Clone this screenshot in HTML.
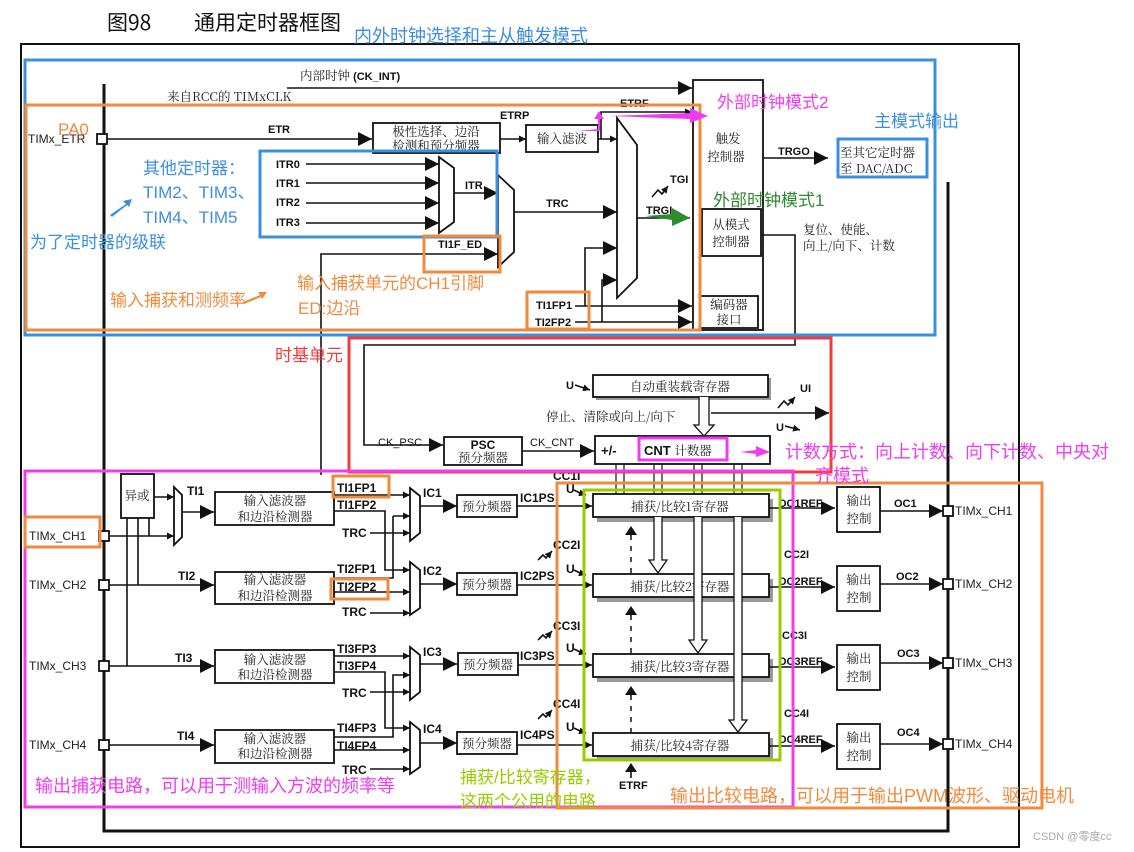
<!DOCTYPE html>
<html><head><meta charset="utf-8"><style>
html,body{margin:0;padding:0;background:#fff;width:1134px;height:852px;overflow:hidden}
svg{display:block}
text{font-family:"Liberation Sans","Noto Sans CJK SC",sans-serif}
.b{font-weight:bold;font-size:11px;fill:#111}
.c{font-size:12.5px;fill:#222;font-family:"Noto Serif CJK SC","Noto Sans CJK SC",serif}
.k{stroke:#111;stroke-width:1.6;fill:none}
.bx{stroke:#111;stroke-width:1.8;fill:#fff}
</style></head><body>
<svg width="1134" height="852" viewBox="0 0 1134 852" xmlns="http://www.w3.org/2000/svg">
<defs>
<marker id="a" viewBox="0 0 10 10" refX="10" refY="5" markerWidth="7" markerHeight="7" orient="auto" markerUnits="userSpaceOnUse"><path d="M0,0L10,5L0,10z" fill="#111"/></marker>
<marker id="A" viewBox="0 0 10 10" refX="10" refY="5" markerWidth="14" markerHeight="14" orient="auto" markerUnits="userSpaceOnUse"><path d="M0,0L10,5L0,10z" fill="#111"/></marker>
</defs>

<!-- title -->
<text x="107" y="30" style="font-family:'Noto Sans CJK SC',sans-serif;font-size:21px" fill="#111">图98</text>
<text x="194" y="30" style="font-family:'Noto Sans CJK SC',sans-serif;font-size:21px" fill="#111">通用定时器框图</text>

<!-- frames -->
<rect x="21" y="44" width="998" height="803" fill="none" stroke="#111" stroke-width="2"/>
<polyline points="104,84 104,831 948,831 948,182" fill="none" stroke="#111" stroke-width="3"/>

<!-- top area lines -->
<text x="300" y="80" class="b" style="font-weight:bold"><tspan class="c" style="font-weight:normal">内部时钟</tspan> (CK_INT)</text>
<line x1="287" y1="88" x2="692" y2="88" class="k" marker-end="url(#A)"/>
<text x="167" y="101" class="c">来自RCC的 TIMxCLK</text>
<text x="28" y="143" style="font-size:12px" fill="#222">TIMx_ETR</text>
<rect x="97" y="134" width="10" height="10" class="bx" stroke-width="1.5"/>
<line x1="107" y1="139" x2="372" y2="139" class="k" marker-end="url(#A)"/>
<text x="268" y="133" class="b">ETR</text>
<rect x="373" y="123" width="127" height="30" class="bx"/>
<text x="436" y="136" class="c" text-anchor="middle">极性选择、边沿</text>
<text x="436" y="150" class="c" text-anchor="middle">检测和预分频器</text>
<text x="500" y="119" class="b">ETRP</text>
<line x1="500" y1="139" x2="526" y2="139" class="k" marker-end="url(#a)"/>
<rect x="526" y="125" width="72" height="27" class="bx"/>
<text x="562" y="143" class="c" text-anchor="middle">输入滤波</text>
<polyline points="598,139 617,139" class="k" marker-end="url(#a)"/>
<polyline points="601,139 601,112 692,112" class="k" marker-end="url(#a)"/>
<text x="620" y="107" class="b">ETRF</text>
<!-- big mux -->
<polygon points="617,118 637,145 637,278 617,298" class="bx"/>
<!-- ITR -->
<text x="276" y="168" class="b">ITR0</text><text x="276" y="187" class="b">ITR1</text><text x="276" y="206" class="b">ITR2</text><text x="276" y="226" class="b">ITR3</text>
<line x1="306" y1="164" x2="439" y2="164" class="k" marker-end="url(#A)"/>
<line x1="306" y1="183" x2="439" y2="183" class="k" marker-end="url(#A)"/>
<line x1="306" y1="203" x2="439" y2="203" class="k" marker-end="url(#A)"/>
<line x1="306" y1="223" x2="439" y2="223" class="k" marker-end="url(#A)"/>
<polygon points="439,157 454,168 454,222 439,233" class="bx"/>
<line x1="454" y1="193" x2="498" y2="193" class="k" marker-end="url(#A)"/>
<text x="465" y="189" class="b">ITR</text>
<polygon points="498,175 514,190 514,252 498,267" class="bx"/>
<polyline points="321,475 321,254 498,254" class="k" marker-end="url(#A)"/>
<text x="438" y="248" class="b">TI1F_ED</text>
<line x1="514" y1="212" x2="617" y2="212" class="k" marker-end="url(#A)"/>
<text x="546" y="207" class="b">TRC</text>
<text x="536" y="309" class="b">TI1FP1</text><text x="535" y="326" class="b">TI2FP2</text>
<line x1="575" y1="306" x2="692" y2="306" class="k" marker-end="url(#A)"/>
<line x1="575" y1="322" x2="692" y2="322" class="k" marker-end="url(#A)"/>
<polyline points="585,306 585,248 617,248" class="k" marker-end="url(#A)"/>
<polyline points="602,322 602,280 617,280" class="k" marker-end="url(#A)"/>
<!-- trigger controller -->
<rect x="693" y="80" width="70" height="250" class="bx"/>
<text x="728" y="143" class="c" text-anchor="middle">触发</text>
<text x="726" y="161" class="c" text-anchor="middle">控制器</text>
<rect x="702" y="209" width="59" height="47" class="bx"/>
<text x="731" y="229" class="c" text-anchor="middle">从模式</text>
<text x="731" y="246" class="c" text-anchor="middle">控制器</text>
<rect x="700" y="296" width="58" height="32" class="bx"/>
<text x="729" y="309" class="c" text-anchor="middle">编码器</text>
<text x="729" y="324" class="c" text-anchor="middle">接口</text>
<line x1="637" y1="218" x2="690" y2="218" class="k"/>
<text x="646" y="214" class="b">TRGI</text>
<text x="670" y="183" class="b">TGI</text>
<polyline points="652,197 658,190 662,194 668,186" class="k" stroke-width="1.2" marker-end="url(#a)"/>
<line x1="763" y1="158" x2="828" y2="158" class="k" marker-end="url(#A)"/>
<text x="778" y="155" class="b">TRGO</text>
<text x="840" y="157" class="c">至其它定时器</text>
<text x="840" y="173" class="c">至 DAC/ADC</text>
<text x="803" y="234" class="c">复位、使能、</text>
<text x="803" y="250" class="c">向上/向下、计数</text>
<polyline points="761,235 795,235 795,345 364,345 364,445 443,445" class="k" marker-end="url(#A)"/>

<!-- time base -->
<text x="378" y="446" style="font-size:11px" fill="#111">CK_PSC</text>
<rect x="444" y="437" width="78" height="28" class="bx"/>
<text x="483" y="449" class="b" text-anchor="middle" style="font-size:12px">PSC</text>
<text x="483" y="462" class="c" text-anchor="middle">预分频器</text>
<line x1="522" y1="451" x2="594" y2="451" class="k" marker-end="url(#A)"/>
<text x="530" y="446" style="font-size:11px" fill="#111">CK_CNT</text>
<rect x="596" y="378" width="175" height="22" fill="#999"/>
<rect x="593" y="375" width="175" height="22" class="bx"/>
<text x="680" y="391" class="c" text-anchor="middle">自动重装载寄存器</text>
<text x="566" y="389" class="b">U</text><line x1="575" y1="385" x2="590" y2="390" class="k" stroke-width="1.2" marker-end="url(#a)"/>
<text x="546" y="421" class="c">停止、清除或向上/向下</text>
<path d="M699,397 V425 H694 L704,436 L714,425 H709 V397" fill="#fff" stroke="#111" stroke-width="1.3"/>
<line x1="711" y1="413" x2="829" y2="413" class="k" marker-end="url(#A)"/>
<text x="800" y="392" class="b">UI</text>
<polyline points="778,408 784,401 788,405 795,397" class="k" stroke-width="1.2" marker-end="url(#a)"/>
<text x="776" y="431" class="b">U</text><line x1="785" y1="426" x2="800" y2="430" class="k" stroke-width="1.2" marker-end="url(#a)"/>
<rect x="595" y="436" width="175" height="28" class="bx"/>
<text x="601" y="455" class="b" style="font-size:13px">+/-</text>
<text x="644" y="455" class="b" style="font-size:13px">CNT <tspan class="c" style="font-weight:normal">计数器</tspan></text>
<!-- CNT to CC regs -->
<g stroke="#111" stroke-width="1.2">
<line x1="616" y1="464" x2="616" y2="494"/><line x1="624" y1="464" x2="624" y2="494"/>
<line x1="654" y1="464" x2="654" y2="494"/><line x1="662" y1="464" x2="662" y2="494"/>
<line x1="694" y1="464" x2="694" y2="494"/><line x1="702" y1="464" x2="702" y2="494"/>
<line x1="734" y1="464" x2="734" y2="494"/><line x1="742" y1="464" x2="742" y2="494"/>
</g>
<!-- left input section -->
<g style="font-size:12px" fill="#222">
<text x="29" y="540">TIMx_CH1</text><text x="29" y="589">TIMx_CH2</text><text x="29" y="670">TIMx_CH3</text><text x="29" y="749">TIMx_CH4</text>
</g>
<g class="bx" stroke-width="1.5">
<rect x="99" y="531" width="10" height="10" class="bx"/><rect x="99" y="580" width="10" height="10" class="bx"/><rect x="99" y="661" width="10" height="10" class="bx"/><rect x="99" y="740" width="10" height="10" class="bx"/>
</g>
<rect x="121" y="474" width="33" height="44" class="bx"/>
<text x="137" y="500" class="c" text-anchor="middle">异或</text>
<line x1="154" y1="497" x2="174" y2="497" class="k" marker-end="url(#a)"/>
<line x1="109" y1="536" x2="174" y2="536" class="k" marker-end="url(#a)"/>
<line x1="127" y1="518" x2="127" y2="666" class="k"/>
<line x1="138" y1="518" x2="138" y2="585" class="k"/>
<line x1="149" y1="518" x2="149" y2="536" class="k"/>
<polygon points="174,487 182,495 182,537 174,545" class="bx" stroke-width="1.3"/>
<line x1="182" y1="512" x2="214" y2="512" class="k" marker-end="url(#A)"/>
<text x="187" y="495" class="b" style="font-size:12px">TI1</text>
<line x1="109" y1="585" x2="214" y2="585" class="k" marker-end="url(#A)"/>
<text x="178" y="580" class="b" style="font-size:12px">TI2</text>
<line x1="109" y1="666" x2="214" y2="666" class="k" marker-end="url(#A)"/>
<text x="175" y="662" class="b" style="font-size:12px">TI3</text>
<line x1="109" y1="745" x2="214" y2="745" class="k" marker-end="url(#A)"/>
<text x="177" y="740" class="b" style="font-size:12px">TI4</text>
<g>
<rect x="215" y="492" width="119" height="33" class="bx"/><text x="275" y="505" class="c" text-anchor="middle">输入滤波器</text><text x="275" y="521" class="c" text-anchor="middle">和边沿检测器</text>
<rect x="215" y="572" width="119" height="32" class="bx"/><text x="275" y="584" class="c" text-anchor="middle">输入滤波器</text><text x="275" y="600" class="c" text-anchor="middle">和边沿检测器</text>
<rect x="215" y="650" width="119" height="33" class="bx"/><text x="275" y="664" class="c" text-anchor="middle">输入滤波器</text><text x="275" y="679" class="c" text-anchor="middle">和边沿检测器</text>
<rect x="215" y="730" width="119" height="33" class="bx"/><text x="275" y="743" class="c" text-anchor="middle">输入滤波器</text><text x="275" y="758" class="c" text-anchor="middle">和边沿检测器</text>
</g>
<!-- FP lines -->
<g class="b" style="font-size:12px">
<text x="337" y="492">TI1FP1</text><text x="337" y="509">TI1FP2</text><text x="342" y="537">TRC</text>
<text x="337" y="573">TI2FP1</text><text x="337" y="591">TI2FP2</text><text x="342" y="616">TRC</text>
<text x="337" y="653">TI3FP3</text><text x="337" y="670">TI3FP4</text><text x="342" y="697">TRC</text>
<text x="337" y="732">TI4FP3</text><text x="337" y="750">TI4FP4</text><text x="342" y="774">TRC</text>
</g>
<g class="k">
<line x1="334" y1="495" x2="410" y2="495" marker-end="url(#a)"/>
<polyline points="334,511 385,511 385,570 410,570" marker-end="url(#a)"/>
<polyline points="370,533 410,533" marker-end="url(#a)"/>
<polyline points="393,516 410,516" marker-end="url(#a)"/>
<polyline points="334,578 393,578 393,516"/>
<polyline points="334,592 410,592" marker-end="url(#a)"/>
<polyline points="370,613 410,613" marker-end="url(#a)"/>
<line x1="334" y1="656" x2="410" y2="656" marker-end="url(#a)"/>
<polyline points="334,672 385,672 385,728 410,728" marker-end="url(#a)"/>
<polyline points="370,692 410,692" marker-end="url(#a)"/>
<polyline points="334,737 393,737 393,675 410,675" marker-end="url(#a)"/>
<polyline points="334,750 410,750" marker-end="url(#a)"/>
<polyline points="370,769 410,769" marker-end="url(#a)"/>
</g>
<g class="bx" stroke-width="1.3">
<polygon points="410,488 420,496 420,533 410,541" class="bx"/>
<polygon points="410,562 420,570 420,608 410,615" class="bx"/>
<polygon points="410,647 420,655 420,692 410,700" class="bx"/>
<polygon points="410,722 420,730 420,767 410,774" class="bx"/>
</g>
<g class="b" style="font-size:12px"><text x="423" y="497">IC1</text><text x="423" y="575">IC2</text><text x="423" y="656">IC3</text><text x="423" y="733">IC4</text></g>
<line x1="420" y1="506" x2="457" y2="506" class="k" marker-end="url(#A)"/>
<line x1="420" y1="584" x2="457" y2="584" class="k" marker-end="url(#A)"/>
<line x1="420" y1="664" x2="457" y2="664" class="k" marker-end="url(#A)"/>
<line x1="420" y1="743" x2="457" y2="743" class="k" marker-end="url(#A)"/>
<g>
<rect x="457" y="495" width="60" height="22" class="bx"/><text x="487" y="511" class="c" text-anchor="middle">预分频器</text>
<rect x="457" y="573" width="60" height="22" class="bx"/><text x="487" y="589" class="c" text-anchor="middle">预分频器</text>
<rect x="458" y="653" width="60" height="22" class="bx"/><text x="488" y="669" class="c" text-anchor="middle">预分频器</text>
<rect x="457" y="732" width="60" height="22" class="bx"/><text x="487" y="748" class="c" text-anchor="middle">预分频器</text>
</g>
<g class="b" style="font-size:12px">
<text x="520" y="502">IC1PS</text><text x="520" y="580">IC2PS</text><text x="520" y="660">IC3PS</text><text x="520" y="739">IC4PS</text>
<text x="553" y="480">CC1I</text><text x="553" y="549">CC2I</text><text x="553" y="630">CC3I</text><text x="553" y="708">CC4I</text>
<text x="566" y="493">U</text><text x="566" y="573">U</text><text x="566" y="652">U</text><text x="566" y="731">U</text>
</g>
<g class="k" stroke-width="1.1">
<polyline points="574,490 580,493 586,495" marker-end="url(#a)"/>
<polyline points="574,570 580,573 586,575" marker-end="url(#a)"/>
<polyline points="574,649 580,652 586,654" marker-end="url(#a)"/>
<polyline points="574,728 580,731 586,733" marker-end="url(#a)"/>
<polyline points="538,560 543,555 546,558 552,551" marker-end="url(#a)"/>
<polyline points="538,640 543,635 546,638 552,631" marker-end="url(#a)"/>
<polyline points="538,719 543,714 546,717 552,710" marker-end="url(#a)"/>
</g>
<g class="k">
<line x1="517" y1="506" x2="592" y2="506" marker-end="url(#a)"/>
<line x1="517" y1="585" x2="592" y2="585" marker-end="url(#a)"/>
<line x1="518" y1="665" x2="592" y2="665" marker-end="url(#a)"/>
<line x1="517" y1="745" x2="592" y2="745" marker-end="url(#a)"/>
</g>
<!-- CC registers -->
<g>
<rect x="597" y="499" width="176" height="23" fill="#999"/><rect x="593" y="494" width="176" height="23" class="bx"/><text x="680" y="511" class="c" text-anchor="middle">捕获/比较1寄存器</text>
<rect x="597" y="579" width="176" height="23" fill="#999"/><rect x="593" y="574" width="176" height="23" class="bx"/><text x="680" y="591" class="c" text-anchor="middle">捕获/比较2寄存器</text>
<rect x="597" y="659" width="176" height="23" fill="#999"/><rect x="593" y="654" width="176" height="23" class="bx"/><text x="680" y="671" class="c" text-anchor="middle">捕获/比较3寄存器</text>
<rect x="597" y="738" width="176" height="23" fill="#999"/><rect x="593" y="733" width="176" height="23" class="bx"/><text x="680" y="750" class="c" text-anchor="middle">捕获/比较4寄存器</text>
</g>
<g fill="#fff" stroke="#111" stroke-width="1.3">
<path d="M654,517 V560 H649 L658,573 L667,560 H662 V517"/>
<path d="M694,517 V640 H689 L698,653 L707,640 H702 V517"/>
<path d="M734,517 V720 H729 L738,732 L747,720 H742 V517"/>
</g>
<g stroke="#111" stroke-width="1.5" stroke-dasharray="5,6">
<line x1="631" y1="535" x2="631" y2="573"/><line x1="631" y1="615" x2="631" y2="653"/><line x1="631" y1="695" x2="631" y2="733"/>
</g>
<g fill="#111"><path d="M625,535 L631,526 L637,535z"/><path d="M625,615 L631,606 L637,615z"/><path d="M625,695 L631,686 L637,695z"/><path d="M625,772 L631,763 L637,772z"/></g>
<line x1="631" y1="772" x2="631" y2="778" class="k"/>
<text x="619" y="789" class="b">ETRF</text>
<!-- output -->
<g class="b" style="font-size:11px"><text x="778" y="507">OC1REF</text><text x="778" y="585">OC2REF</text><text x="778" y="665">OC3REF</text><text x="778" y="743">OC4REF</text>
<text x="784" y="558">CC2I</text><text x="782" y="639">CC3I</text><text x="784" y="717">CC4I</text></g>
<g class="k">
<line x1="769" y1="508" x2="835" y2="508" marker-end="url(#A)"/>
<line x1="769" y1="587" x2="835" y2="587" marker-end="url(#A)"/>
<line x1="769" y1="667" x2="835" y2="667" marker-end="url(#A)"/>
<line x1="769" y1="746" x2="835" y2="746" marker-end="url(#A)"/>
</g>
<g>
<rect x="837" y="487" width="43" height="45" class="bx"/><text x="859" y="505" class="c" text-anchor="middle">输出</text><text x="859" y="523" class="c" text-anchor="middle">控制</text>
<rect x="837" y="566" width="43" height="45" class="bx"/><text x="859" y="584" class="c" text-anchor="middle">输出</text><text x="859" y="602" class="c" text-anchor="middle">控制</text>
<rect x="837" y="645" width="43" height="45" class="bx"/><text x="859" y="663" class="c" text-anchor="middle">输出</text><text x="859" y="681" class="c" text-anchor="middle">控制</text>
<rect x="837" y="724" width="43" height="45" class="bx"/><text x="859" y="742" class="c" text-anchor="middle">输出</text><text x="859" y="760" class="c" text-anchor="middle">控制</text>
</g>
<g class="k">
<line x1="880" y1="511" x2="943" y2="511" marker-end="url(#A)"/>
<line x1="880" y1="584" x2="943" y2="584" marker-end="url(#A)"/>
<line x1="880" y1="663" x2="943" y2="663" marker-end="url(#A)"/>
<line x1="880" y1="744" x2="943" y2="744" marker-end="url(#A)"/>
</g>
<g class="b" style="font-size:11px"><text x="894" y="507">OC1</text><text x="896" y="580">OC2</text><text x="897" y="657">OC3</text><text x="897" y="736">OC4</text></g>
<g class="bx" stroke-width="1.5">
<rect x="943" y="506" width="10" height="10" class="bx"/><rect x="943" y="579" width="10" height="10" class="bx"/><rect x="943" y="658" width="10" height="10" class="bx"/><rect x="943" y="739" width="10" height="10" class="bx"/>
</g>
<g style="font-size:12px" fill="#222"><text x="955" y="515">TIMx_CH1</text><text x="955" y="588">TIMx_CH2</text><text x="955" y="667">TIMx_CH3</text><text x="955" y="748">TIMx_CH4</text></g>

<!-- annotation boxes -->
<g fill="none" stroke-width="3">
<rect x="25" y="60" width="910" height="275" stroke="#3c8fe0"/>
<rect x="26" y="105" width="674" height="225" stroke="#f08a3c"/>
<rect x="260" y="151" width="237" height="86" stroke="#3c8fe0"/>
<rect x="424" y="236" width="76" height="36" stroke="#f08a3c"/>
<rect x="527" y="292" width="62" height="37" stroke="#f08a3c"/>
<rect x="838" y="139" width="89" height="38" stroke="#3c8fe0"/>
<rect x="349" y="338" width="482" height="134" stroke="#f23c3c"/>
<rect x="639" y="438" width="88" height="22" stroke="#f03cf0"/>
<rect x="25" y="471" width="768" height="336" stroke="#f03cf0"/>
<rect x="557" y="483" width="485" height="325" stroke="#f08a3c"/>
<rect x="584" y="490" width="196" height="270" stroke="#99cc00"/>
<rect x="25" y="517" width="75" height="30" stroke="#f08a3c"/>
<rect x="333" y="476" width="56" height="21" stroke="#f08a3c"/>
<rect x="331" y="579" width="57" height="20" stroke="#f08a3c"/>
</g>
<!-- annotation arrows -->
<path d="M578,131 L598,129 L598,119 L594,119 L599,111 L604,119 L600,119 L600,131z" fill="#f03cf0"/>
<path d="M610,116 L690,113 L690,108 L708,116 L690,123 L690,119z" fill="#f03cf0"/>
<path d="M645,216 L672,214 L672,208 L690,218 L672,226 L672,220z" fill="#2e8b2e"/>
<path d="M740,452 L756,450 L756,446 L770,452 L756,457 L756,454z" fill="#f03cf0"/>
<path d="M110,215 L126,204 L123,201 L132,199 L129,207 L127,205 L112,217z" fill="#3c8fe0"/>
<path d="M243,302 L260,295 L258,292 L267,292 L262,299 L261,297 L244,304z" fill="#f08a3c"/>
<!-- annotation texts -->
<g style="font-family:'Noto Sans CJK SC',sans-serif">
<text x="354" y="42" fill="#3c8fe0" font-size="18">内外时钟选择和主从触发模式</text>
<text x="58" y="135" fill="#f08a3c" font-size="17">PA0</text>
<text x="143" y="174" fill="#3c8fe0" font-size="17">其他定时器：</text>
<text x="143" y="198" fill="#3c8fe0" font-size="17">TIM2、TIM3、</text>
<text x="143" y="223" fill="#3c8fe0" font-size="17">TIM4、TIM5</text>
<text x="30" y="248" fill="#3c8fe0" font-size="17">为了定时器的级联</text>
<text x="110" y="306" fill="#f08a3c" font-size="17">输入捕获和测频率</text>
<text x="297" y="289" fill="#f08a3c" font-size="17">输入捕获单元的CH1引脚</text>
<text x="298" y="314" fill="#f08a3c" font-size="17">ED:边沿</text>
<text x="717" y="108" fill="#f03cf0" font-size="17">外部时钟模式2</text>
<text x="713" y="206" fill="#2e8b2e" font-size="17">外部时钟模式1</text>
<text x="874" y="127" fill="#3c8fe0" font-size="17">主模式输出</text>
<text x="275" y="361" fill="#f23c3c" font-size="17">时基单元</text>
<text x="785" y="458" fill="#f03cf0" font-size="18">计数方式：向上计数、向下计数、中央对</text>
<text x="815" y="482" fill="#f03cf0" font-size="18">齐模式</text>
<text x="35" y="792" fill="#f03cf0" font-size="18">输出捕获电路，可以用于测输入方波的频率等</text>
<text x="460" y="783" fill="#99cc00" font-size="17">捕获/比较寄存器，</text>
<text x="460" y="807" fill="#99cc00" font-size="17">这两个公用的电路</text>
<text x="670" y="802" fill="#f08a3c" font-size="18">输出比较电路，可以用于输出PWM波形、驱动电机</text>
<text x="1033" y="840" fill="#aaa" font-size="11">CSDN @零度cc</text>
</g>
</svg>
</body></html>
